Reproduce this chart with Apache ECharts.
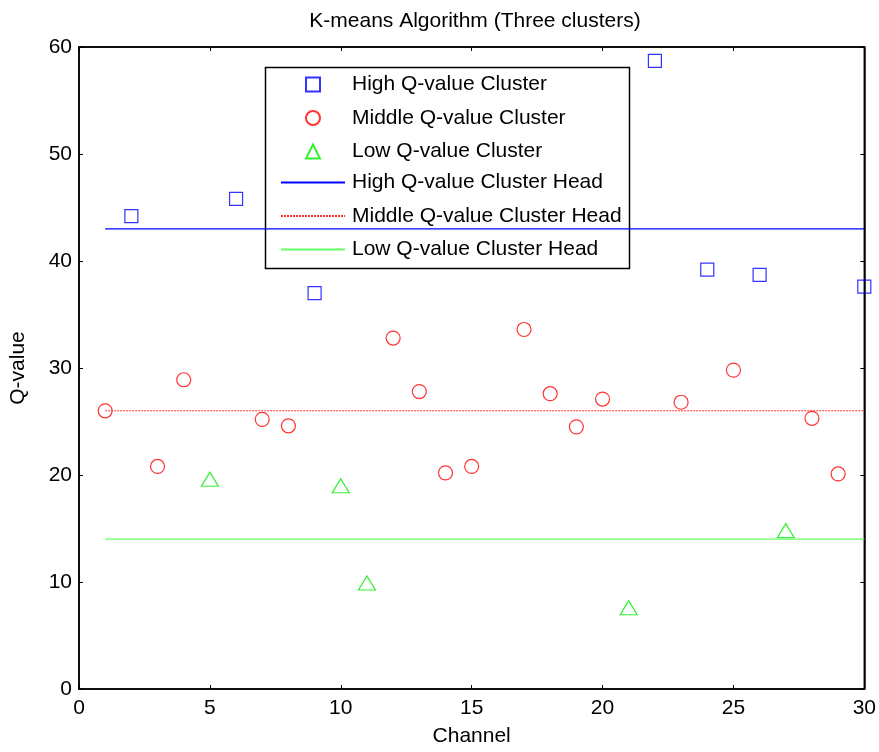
<!DOCTYPE html>
<html>
<head>
<meta charset="utf-8">
<style>
  html, body { margin: 0; padding: 0; background: #fff; }
  #main { width: 879px; height: 752px; }
</style>
</head>
<body>
<div id="main"></div>
<script src="https://cdn.jsdelivr.net/npm/echarts@6/dist/echarts.min.js"></script>
<script>
// channel / Q-value pairs
var highCluster = [[2, 44.2], [6, 45.8], [9, 37.0], [22, 58.7], [24, 39.2], [26, 38.7], [30, 37.6]];
var middleCluster = [[1, 26.0], [3, 20.8], [4, 28.9], [7, 25.2], [8, 24.6], [12, 32.8], [13, 27.8],
    [14, 20.2], [15, 20.8], [17, 33.6], [18, 27.6], [19, 24.5], [20, 27.1], [23, 26.8],
    [25, 29.8], [28, 25.3], [29, 20.1]];
var lowCluster = [[5, 19.6], [10, 19.0], [11, 9.9], [21, 7.6], [27, 14.8]];

// cluster heads, drawn from channel 1 to 30
var headRange = [1, 30];
var highHead = 43;
var middleHead = 26;
var lowHead = 14;

var font = 'Liberation Sans, Arial, sans-serif';

function headLine(v) {
    return [[headRange[0], v], [headRange[1], v]];
}

// legend entry for a head line: keep the line, hide the dot
function lineEntry(name) {
    return { name: name, itemStyle: { opacity: 0, color: 'rgba(0,0,0,0)', borderWidth: 0 } };
}

var chart = echarts.init(document.getElementById('main'));

var option = {
    animation: false,
    backgroundColor: '#fff',
    title: {
        text: 'K-means Algorithm (Three clusters)',
        left: 470,
        textAlign: 'center',
        top: 6,
        textStyle: { fontFamily: font, fontSize: 21, fontWeight: 'normal', color: '#000' }
    },
    grid: {
        left: 79, right: 14, top: 47, bottom: 59,
        show: true, borderColor: '#000', borderWidth: 1.5, backgroundColor: 'transparent'
    },
    xAxis: [{
        type: 'value', min: 0, max: 30, interval: 5,
        name: 'Channel', nameLocation: 'middle', nameGap: 37,
        nameTextStyle: { fontFamily: font, fontSize: 21, color: '#000' },
        axisLine: { onZero: false, lineStyle: { color: '#000', width: 1.5 } },
        axisTick: { inside: true, length: 4, lineStyle: { color: '#000' } },
        axisLabel: { fontFamily: font, fontSize: 21, color: '#000', margin: 9 },
        splitLine: { show: false }
    }, {
        type: 'value', min: 0, max: 30, interval: 5, position: 'top',
        axisLine: { onZero: false, lineStyle: { color: '#000', width: 1.5 } },
        axisTick: { inside: true, length: 4, lineStyle: { color: '#000' } },
        axisLabel: { show: false },
        splitLine: { show: false }
    }],
    yAxis: [{
        type: 'value', min: 0, max: 60, interval: 10,
        name: 'Q-value', nameLocation: 'middle', nameGap: 50,
        nameTextStyle: { fontFamily: font, fontSize: 21, color: '#000' },
        axisLine: { show: true, onZero: false, lineStyle: { color: '#000', width: 1.5 } },
        axisTick: { show: true, inside: true, length: 4, lineStyle: { color: '#000' } },
        axisLabel: { fontFamily: font, fontSize: 21, color: '#000', margin: 7 },
        splitLine: { show: false }
    }, {
        type: 'value', min: 0, max: 60, interval: 10, position: 'right',
        axisLine: { show: true, onZero: false, lineStyle: { color: '#000', width: 1.5 } },
        axisTick: { show: true, inside: true, length: 4, lineStyle: { color: '#000' } },
        axisLabel: { show: false },
        splitLine: { show: false }
    }],
    legend: [{
        orient: 'vertical',
        left: 305, top: 74,
        padding: 0,
        itemWidth: 14, itemHeight: 14, itemGap: 12.5,
        selectedMode: false,
        data: ['High Q-value Cluster', 'Middle Q-value Cluster', 'Low Q-value Cluster'],
        textStyle: { fontFamily: font, fontSize: 21, color: '#000', lineHeight: 20, padding: [0, 0, 0, 27] }
    }, {
        orient: 'vertical',
        left: 280, top: 172,
        padding: 0,
        itemWidth: 64, itemHeight: 14, itemGap: 12.5,
        selectedMode: false,
        data: [
            lineEntry('High Q-value Cluster Head'),
            lineEntry('Middle Q-value Cluster Head'),
            lineEntry('Low Q-value Cluster Head')
        ],
        textStyle: { fontFamily: font, fontSize: 21, color: '#000', lineHeight: 20, padding: [0, 0, 0, 2] }
    }],
    graphic: [{
        type: 'rect',
        z: 3,
        shape: { x: 265.5, y: 67.5, width: 364, height: 201 },
        style: { fill: '#fff', stroke: '#000', lineWidth: 1.5 }
    }],
    series: [{
        name: 'High Q-value Cluster',
        type: 'scatter',
        symbol: 'rect',
        symbolSize: 13,
        itemStyle: { color: 'rgba(0,0,0,0)', borderColor: '#0000ff', borderWidth: 1.2 },
        data: highCluster
    }, {
        name: 'Middle Q-value Cluster',
        type: 'scatter',
        symbol: 'circle',
        symbolSize: 14,
        itemStyle: { color: 'rgba(0,0,0,0)', borderColor: '#ff0000', borderWidth: 1.2 },
        data: middleCluster
    }, {
        name: 'Low Q-value Cluster',
        type: 'scatter',
        symbol: 'triangle',
        symbolSize: [17, 14],
        itemStyle: { color: 'rgba(0,0,0,0)', borderColor: '#00ee00', borderWidth: 1.2 },
        data: lowCluster
    }, {
        name: 'High Q-value Cluster Head',
        type: 'line',
        symbol: 'none',
        lineStyle: { color: '#0000ff', width: 1.2 },
        itemStyle: { color: '#0000ff' },
        data: headLine(highHead)
    }, {
        name: 'Middle Q-value Cluster Head',
        type: 'line',
        symbol: 'none',
        lineStyle: { color: '#ff3333', width: 1, type: [2, 1] },
        itemStyle: { color: '#ff3333' },
        data: headLine(middleHead)
    }, {
        name: 'Low Q-value Cluster Head',
        type: 'line',
        symbol: 'none',
        lineStyle: { color: '#66ff66', width: 1.2 },
        itemStyle: { color: '#66ff66' },
        data: headLine(lowHead)
    }]
};

chart.setOption(option);
</script>
</body>
</html>
